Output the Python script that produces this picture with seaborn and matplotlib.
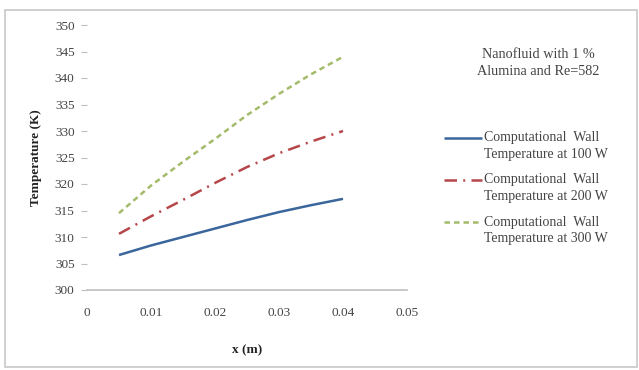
import numpy as np
import pandas as pd
import matplotlib
matplotlib.use("Agg")
import matplotlib.pyplot as plt
from matplotlib.lines import Line2D
from matplotlib.patches import Rectangle
import seaborn as sns

# Axial position along the channel (m)
x_pos = [0.005, 0.01, 0.015, 0.02, 0.025, 0.03, 0.035, 0.04]

# Computed wall temperature (K) for each heating power
temp_100w = [306.6, 308.4, 310.0, 311.6, 313.2, 314.7, 316.0, 317.2]
temp_200w = [310.6, 313.9, 317.0, 320.2, 323.2, 325.8, 328.0, 330.0]
temp_300w = [314.5, 319.7, 324.2, 328.5, 333.0, 337.0, 340.7, 344.0]

series_labels = [
    "Computational  Wall\nTemperature at 100 W",
    "Computational  Wall\nTemperature at 200 W",
    "Computational  Wall\nTemperature at 300 W",
]

x_ticks = [0, 0.01, 0.02, 0.03, 0.04, 0.05]
x_tick_labels = ["0", "0.01", "0.02", "0.03", "0.04", "0.05"]
y_ticks = [300, 305, 310, 315, 320, 325, 330, 335, 340, 345, 350]

sns.set_theme(style="white")
plt.rcParams["font.family"] = ["Liberation Serif", "DejaVu Serif"]

colors = ["#3A669C", "#B5474A", "#A3BB6A"]
styles = [
    (0, ()),
    (0, (5, 2.5, 0.8, 2.5)),
    (0, (2.2, 1.6)),
]

df = pd.DataFrame({
    "x": x_pos * 3,
    "T": temp_100w + temp_200w + temp_300w,
    "series": sum([[lab] * len(x_pos) for lab in series_labels], []),
})

W, H = 639, 370
fig = plt.figure(figsize=(W / 100, H / 100), dpi=100)
ax = fig.add_axes([87 / W, 1 - 290 / H, 320 / W, 265 / H])

for lab, c, ls in zip(series_labels, colors, styles):
    sub = df[df["series"] == lab]
    sns.lineplot(data=sub, x="x", y="T", ax=ax, color=c, linewidth=1.8,
                 legend=False)
    ax.lines[-1].set_linestyle(ls)

ax.set_xlim(0, 0.05)
ax.set_ylim(300, 350)
ax.set_xticks(x_ticks)
ax.set_xticklabels(x_tick_labels)
ax.set_yticks(y_ticks)

for side in ["top", "right", "left"]:
    ax.spines[side].set_visible(False)
ax.spines["bottom"].set_color("#BFBFBF")
ax.spines["bottom"].set_linewidth(1.2)

ax.tick_params(axis="x", direction="inout", length=5, width=0.8,
               color="#BFBFBF", labelsize=9.5, labelcolor="#444444", pad=9.5)
ax.tick_params(axis="y", direction="out", length=4, width=0.8, left=True,
               color="#BFBFBF", labelsize=9.5, labelcolor="#444444", pad=5)

ax.set_xlabel("x (m)", fontsize=9.5, fontweight="bold", color="#222222",
              labelpad=18.5)
ax.set_ylabel("Temperature (K)", fontsize=9.5, fontweight="bold",
              color="#222222", labelpad=9)

# Case description
fig.text(538 / W, 1 - 63 / H, "Nanofluid with 1 %\nAlumina and Re=582",
         ha="center", va="center", fontsize=10.3, color="#444444",
         linespacing=1.45)

# Legend: short line sample followed by a two-line label
leg_rows = [138, 180, 222]
for y0, lab, c, ls in zip(leg_rows, series_labels, colors, styles):
    yf = 1 - y0 / H
    fig.add_artist(Line2D([444 / W, 482 / W], [yf, yf], color=c,
                          linewidth=1.8, linestyle=ls,
                          transform=fig.transFigure))
    fig.text(484 / W, 1 - (y0 - 6.5) / H, lab, ha="left", va="top",
             fontsize=10, color="#444444", linespacing=1.35)

# Chart frame
fig.add_artist(Rectangle((5 / W, 3 / H), 632 / W, 1 - 13 / H,
                         transform=fig.transFigure, fill=False,
                         edgecolor="#C8C8C8", linewidth=1.2))

fig.savefig("out.png", dpi=100)
